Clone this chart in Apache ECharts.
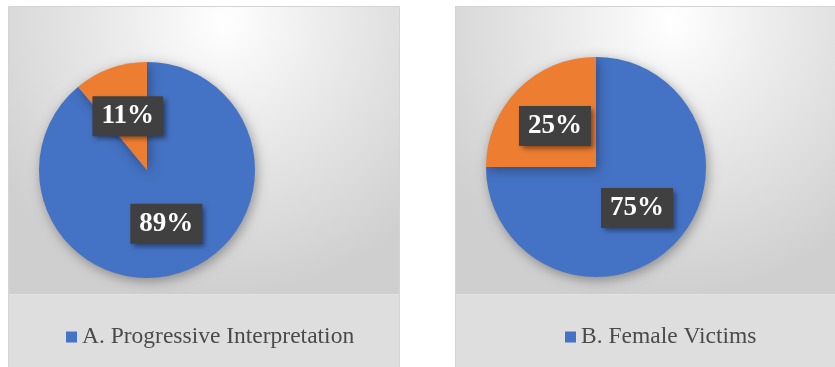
<!DOCTYPE html>
<html>
<head>
<meta charset="utf-8">
<script src="https://cdn.jsdelivr.net/npm/echarts@6/dist/echarts.min.js"></script>
<style>
html,body{margin:0;padding:0;background:#fff;}
#c{width:835px;height:367px;}
</style>
</head>
<body>
<div id="c"></div>
<script>
const leftNames = ['A. Progressive Interpretation', ''];
const leftValues = [89, 11];
const rightNames = ['B. Female Victims', ' '];
const rightValues = [75, 25];
const colors = ['#4472C4', '#ED7D31'];

const chart = echarts.init(document.getElementById('c'));

function panelBg(x, w) {
  return [
    {
      type: 'rect', z: -10, silent: true,
      shape: {x: x, y: 6.5, width: w, height: 288},
      style: {
        fill: new echarts.graphic.RadialGradient(0.55, 0.05, 0.95, [
          {offset: 0, color: '#ffffff'},
          {offset: 0.35, color: '#ededed'},
          {offset: 1, color: '#cfcfcf'}
        ]),
        stroke: null
      }
    },
    {
      type: 'rect', z: -10, silent: true,
      shape: {x: x, y: 294.5, width: w, height: 80},
      style: {fill: '#dedede', stroke: null}
    },
    {
      type: 'rect', z: -9, silent: true,
      shape: {x: x, y: 6.5, width: w, height: 370},
      style: {fill: 'none', stroke: '#d4d4d4', lineWidth: 1}
    }
  ];
}

function pieSeries(names, values, center, radius) {
  return {
    type: 'pie',
    center: center,
    radius: radius,
    startAngle: 90,
    clockwise: true,
    animation: false,
    avoidLabelOverlap: false,
    itemStyle: {
      shadowBlur: 12, shadowColor: 'rgba(0,0,0,0.35)', shadowOffsetX: 2, shadowOffsetY: 3
    },
    label: {
      show: true,
      position: 'inside',
      formatter: '{c}%',
      color: '#ffffff',
      fontFamily: '"Liberation Serif", serif',
      fontWeight: 'bold',
      fontSize: 27,
      lineHeight: 26,
      backgroundColor: '#404040',
      padding: [7, 9, 7, 9],
      shadowBlur: 5,
      shadowOffsetX: 3,
      shadowOffsetY: 3,
      shadowColor: 'rgba(0,0,0,0.45)'
    },
    labelLine: {show: false},
    emphasis: {disabled: true},
    data: names.map((n, i) => ({name: n, value: values[i], itemStyle: {color: colors[i]}}))
  };
}

function legend(name, left) {
  return {
    left: left, top: 320,
    data: [name],
    itemWidth: 11, itemHeight: 11, itemGap: 10,
    icon: 'rect',
    selectedMode: false,
    textStyle: {fontFamily: '"Liberation Serif", serif', fontSize: 23.5, color: '#4a4a4a'}
  };
}

chart.setOption({
  backgroundColor: '#ffffff',
  textStyle: {fontFamily: '"Liberation Serif", serif'},
  color: colors,
  graphic: [...panelBg(8.5, 391), ...panelBg(455.5, 392)],
  legend: [legend(leftNames[0], 61), legend(rightNames[0], 560)],
  series: [
    pieSeries(leftNames, leftValues, [147, 170], 108),
    pieSeries(rightNames, rightValues, [596, 167], 110)
  ]
});
</script>
</body>
</html>
